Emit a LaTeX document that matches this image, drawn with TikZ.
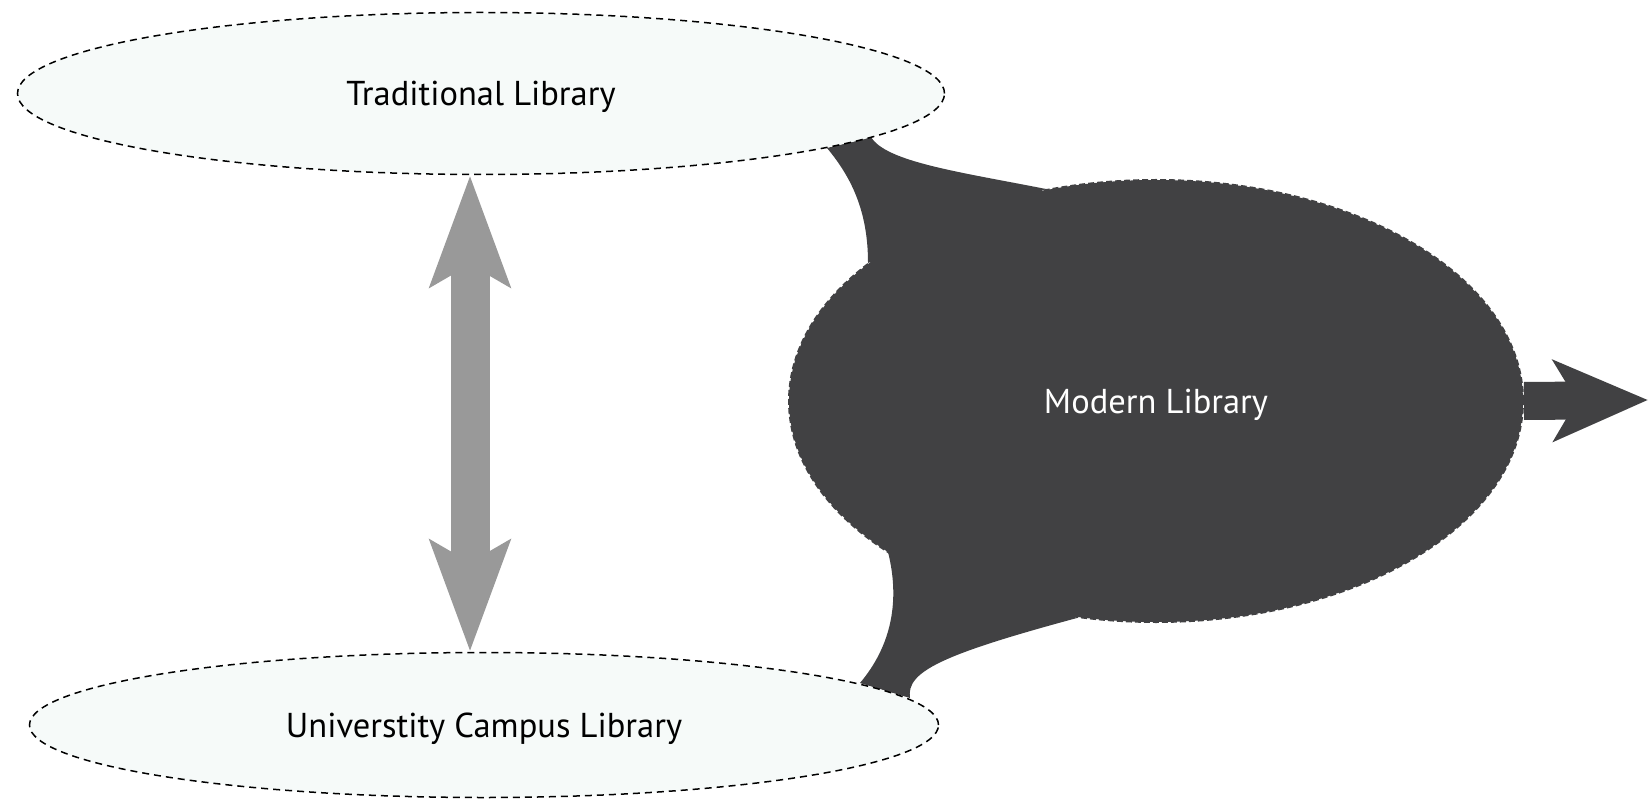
\documentclass[tikz,border=0pt]{standalone}
\usepackage{fontspec}
\setmainfont{PT Sans}
\usetikzlibrary{shapes.geometric,arrows.meta,backgrounds,calc}
\definecolor{darkfill}{RGB}{65,65,67}
\definecolor{lightfill}{RGB}{246,250,249}
\definecolor{arrowgray}{RGB}{153,153,153}
\begin{document}
\begin{tikzpicture}[x=1pt,y=-1pt,
  lib/.style={ellipse, draw=black, dash pattern=on 7pt off 5pt, line width=1.5pt,
    fill=lightfill, inner sep=0pt, text depth=0pt, font=\fontsize{34.5}{40}\selectfont},
  modern/.style={ellipse, draw=darkfill, dash pattern=on 6pt off 3pt, line width=2pt,
    fill=darkfill, text=white, inner sep=0pt, text depth=0pt, font=\fontsize{34.5}{40}\selectfont},
  flow/.style={fill=darkfill},
  grayarrow/.style={draw=arrowgray, line width=39pt,
    {Stealth[length=110pt,width=78pt,inset=21pt,fill=arrowgray]}-{Stealth[length=110pt,width=78pt,inset=21pt,fill=arrowgray]}},
  outarrow/.style={draw=darkfill, line width=38pt,
    -{Stealth[length=94pt,width=80pt,inset=23pt,fill=darkfill]}},
]
\useasboundingbox (0,0) rectangle (1648,799);
\node[lib, minimum width=927pt, minimum height=162pt] (trad) at (481,93.5) {Traditional Library};
\node[lib, minimum width=909pt, minimum height=145pt] (campus) at (484,725) {Universtity Campus Library};
\node[modern, minimum width=734pt, minimum height=442pt] (mod) at (1156,401) {Modern Library};
\coordinate (out) at (1648,400);
\coordinate (ax) at (470,0);
\begin{pgfonlayer}{background}
  \fill[flow] ($(trad.center)+(346,54.5)$) .. controls (852,178) and (868,212) .. ($(mod.center)+(-288,-138)$)
    -- ($(mod.center)+(-110,-212)$) .. controls (960,172) and (886,162) .. ($(trad.center)+(390,43.5)$) -- cycle;
  \fill[flow] ($(mod.center)+(-268,151)$) .. controls (900,600) and (892,645) .. ($(campus.center)+(376,-42)$)
    -- ($(campus.center)+(426,-27)$) .. controls (906,672) and (940,655) .. ($(mod.center)+(-79,217)$) -- cycle;
\end{pgfonlayer}
\draw[grayarrow] (trad.south -| ax) -- (campus.north -| ax);
\draw[outarrow] (mod.east) -- (out);
\end{tikzpicture}
\end{document}
